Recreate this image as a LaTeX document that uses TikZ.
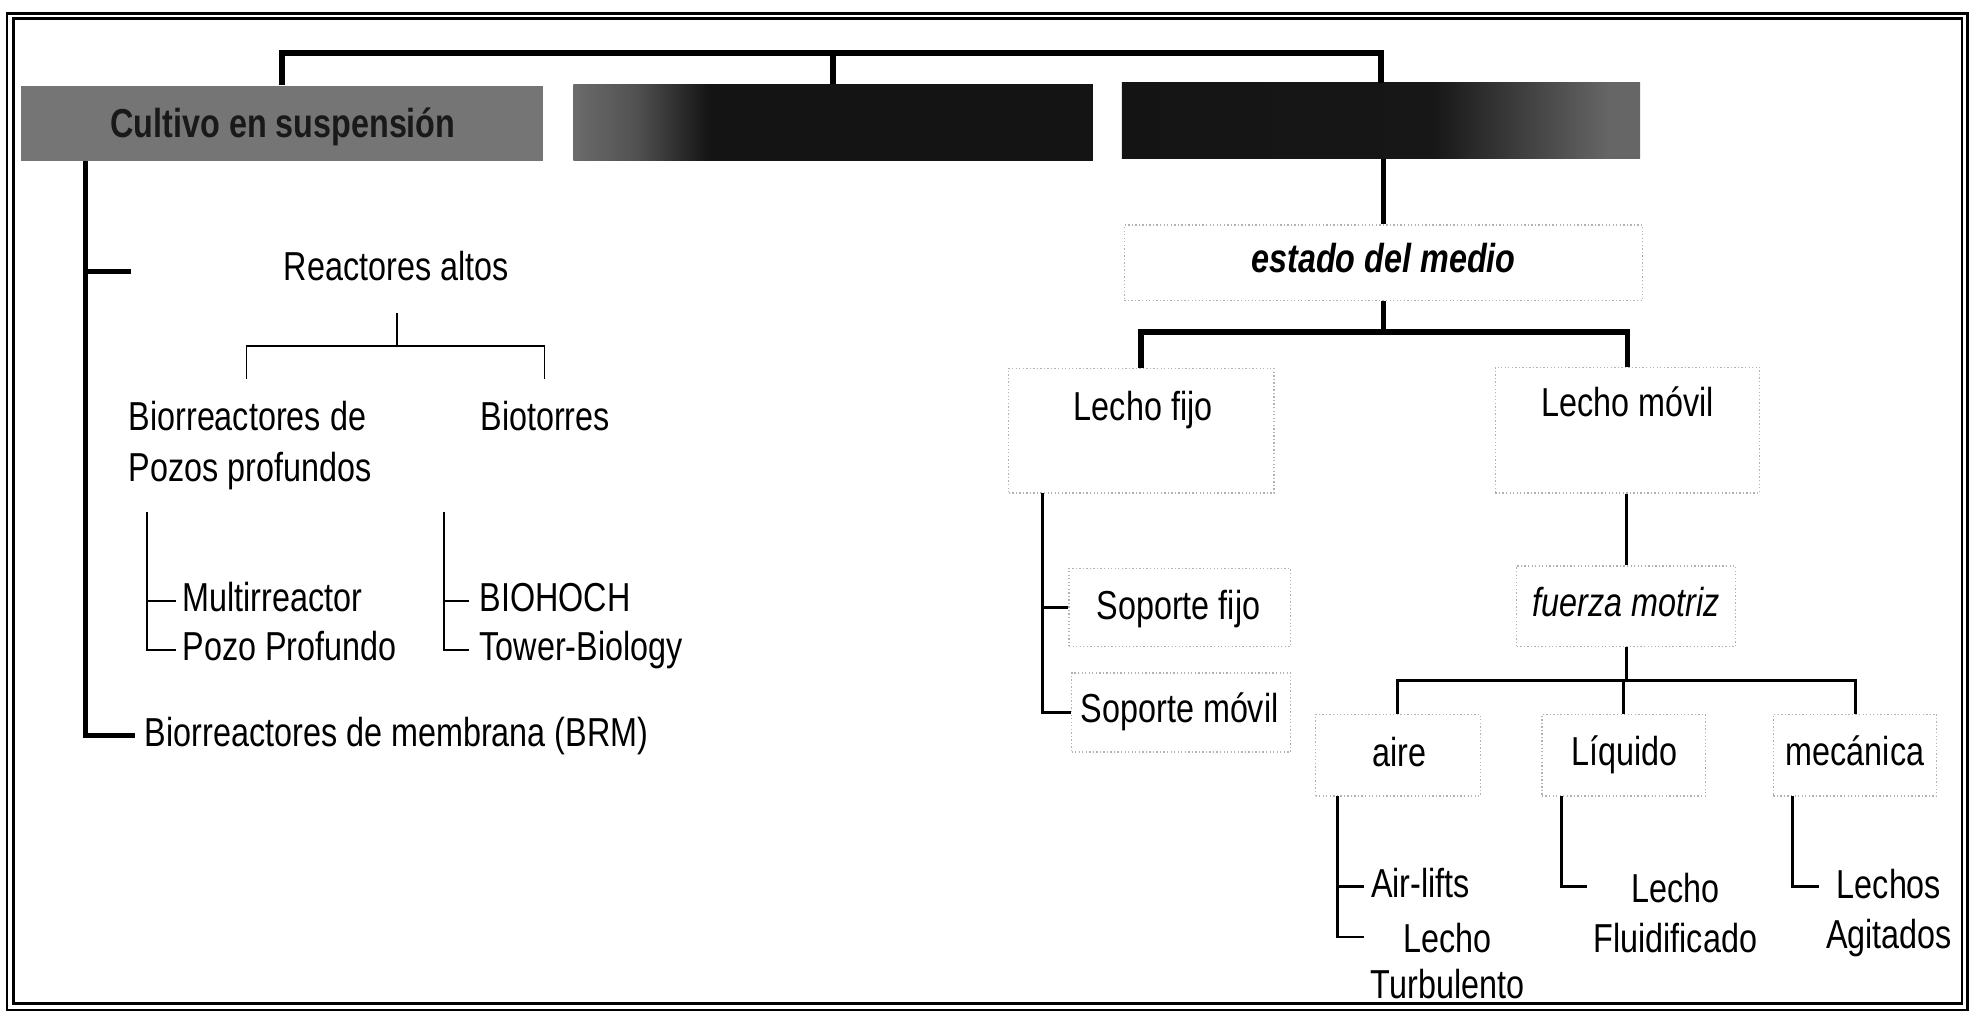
\documentclass[tikz,border=0pt]{standalone}
\usepackage{fontspec}
\setmainfont{Liberation Sans}[FakeStretch=0.8]
\usetikzlibrary{fit,calc}
\newcommand\mybodyfont{\fontsize{18.3}{22.5}\selectfont}
\pgfdeclarehorizontalshading{boxtwo}{100bp}{color(0bp)=(black!58); color(25bp)=(black!58); color(31bp)=(black!68); color(38bp)=(black!92); color(100bp)=(black!92)}
\pgfdeclarehorizontalshading{boxthree}{100bp}{color(0bp)=(black!93); color(55bp)=(black!91); color(72bp)=(black!60); color(100bp)=(black!60)}
\begin{document}
\begin{tikzpicture}[x=0.02cm,y=-0.02cm,
  font=\mybodyfont,
  every node/.style={inner sep=0pt},
  txt/.style={text height=13.2pt, text depth=3.7pt},
  mtxt/.style={align=center},
  fbox/.style={draw=black!30, densely dotted, line width=0.6pt},
  frame/.style={line width=1.2pt},
  thickln/.style={line width=2.6pt},
  spine/.style={line width=2.2pt},
  midln/.style={line width=1.3pt},
  thinln/.style={line width=0.8pt}]
\useasboundingbox (0,0) rectangle (1568,810);
% frame
\draw[frame] (5.5,10.5) rectangle (1564.5,803);
\draw[frame] (10.5,14.5) rectangle (1560,798);
% top boxes
\node[fill=black!54, fit={(17,68) (432,128)}] (b1) {};
\node[shade, shading=boxtwo, fit={(456,67) (869,128)}] (b2) {};
\node[shade, shading=boxthree, fit={(892,66) (1304,126)}] (b3) {};
\node[txt, font=\mybodyfont\bfseries, text=black!90] (cult) at (225,101) {Cultivo en suspensión};
\coordinate (tj) at (661,42);
\draw[thickln] (b1.north) |- (tj) -| (b3.north);
\draw[thickln] (b2.north |- tj) -- (b2.north);
% left branch
\coordinate (spt) at (68,128);
\coordinate (rtick) at (104,216);
\node[txt] (reac) at (315,215) {Reactores altos};
\node[txt, anchor=west, inner xsep=4.5pt] (brm) at (107,585) {Biorreactores de membrana (BRM)};
\draw[spine] (spt) |- (brm.west);
\draw[spine] (spt |- rtick) -- (rtick);
\coordinate (rtop) at (315.6,249);
\coordinate (rj) at (315.6,275);
\coordinate (rl) at (196,301);
\coordinate (rr) at (433,301);
\node[mtxt, align=left, anchor=west, font=\fontsize{18.3}{23}\selectfont] (biopp) at (102,354) {Biorreactores de\\Pozos profundos};
\node[txt] (biot) at (433.5,334) {Biotorres};
\draw[thinln] (rtop) -- (rj);
\draw[thinln] (rl) |- (rj) -| (rr);
\coordinate (lst) at (117,407);
\node[txt, anchor=west, inner xsep=2.8pt] (multi) at (140,478) {Multirreactor};
\node[txt, anchor=west, inner xsep=2.8pt] (pozo) at (140,517) {Pozo Profundo};
\draw[thinln] (lst) |- (pozo.west);
\draw[thinln] (lst |- multi.west) -- (multi.west);
\coordinate (rst) at (353,407);
\node[txt, anchor=west, inner xsep=4.5pt] (bioh) at (373,478) {BIOHOCH};
\node[txt, anchor=west, inner xsep=4.5pt] (tower) at (373,517) {Tower-Biology};
\draw[thinln] (rst) |- (tower.west);
\draw[thinln] (rst |- bioh.west) -- (bioh.west);
% right branch
\node[fbox, fit={(894,179) (1306,239)}] (best) {};
\node[txt, font=\mybodyfont\bfseries\itshape] (est) at (1100,208) {estado del medio};
\draw[thickln] (best.north |- b3.south) -- (best.north);
\coordinate (ej) at (1100,264);
\draw[thickln] (best.south) -- (ej);
\node[fbox, fit={(802,293) (1013,392)}] (blf) {};
\node[fbox, fit={(1189,292) (1399,392)}] (blm) {};
\draw[thickln] (blf.north) |- (ej) -| (blm.north);
\node[txt] (lf) at (909,326) {Lecho fijo};
\node[txt] (lm) at (1294,323) {Lecho móvil};
\node[fbox, fit={(850,452) (1026,514)}] (bsf) {};
\node[fbox, fit={(852,535) (1026,598)}] (bsm) {};
\node[txt] (sf) at (937,484) {Soporte fijo};
\node[txt] (sm) at (938,566) {Soporte móvil};
\coordinate (lfs) at (829,392);
\draw[midln] (lfs) |- (bsm.west);
\draw[midln] (lfs |- bsf.west) -- (bsf.west);
\node[fbox, fit={(1206,450) (1380,514)}] (bfm) {};
\node[txt, font=\mybodyfont\itshape] (fm) at (1293,482) {fuerza motriz};
\draw[midln] (bfm.north |- blm.south) -- (bfm.north);
\coordinate (fj) at (1293,541);
\draw[midln] (bfm.south) -- (fj);
\node[fbox, fit={(1046,568) (1177,633)}] (bai) {};
\node[fbox, fit={(1226,568) (1356,633)}] (bli) {};
\node[fbox, fit={(1410,568) (1540,633)}] (bme) {};
\draw[midln] (bai.north) |- (fj) -| (bme.north);
\draw[midln] (bli.north |- fj) -- (bli.north);
\node[txt] (ai) at (1113,601) {aire};
\node[txt] (li) at (1292,600) {Líquido};
\node[txt] (me) at (1475,600) {mecánica};
% aire sub
\coordinate (as) at (1063.6,633);
\coordinate (ltk) at (1084.6,745);
\node[txt, anchor=west, inner xsep=3pt] (al) at (1084.6,705) {Air-lifts};
\node[mtxt, font=\fontsize{18.3}{21}\selectfont] (lt) at (1151,764) {Lecho\\Turbulento};
\draw[midln] (as) |- (ltk);
\draw[midln] (as |- al.west) -- (al.west);
% liquido sub
\coordinate (ls) at (1241.5,633);
\coordinate (lk) at (1262,705);
\node[mtxt] (lfl) at (1332,726) {Lecho\\Fluidificado};
\draw[midln] (ls) |- (lk);
% mecanica sub
\coordinate (ms) at (1425.6,633);
\coordinate (mk) at (1446,705);
\node[mtxt] (lag) at (1502,726) {Lechos\\Agitados};
\draw[midln] (ms) |- (mk);
\end{tikzpicture}
\end{document}
